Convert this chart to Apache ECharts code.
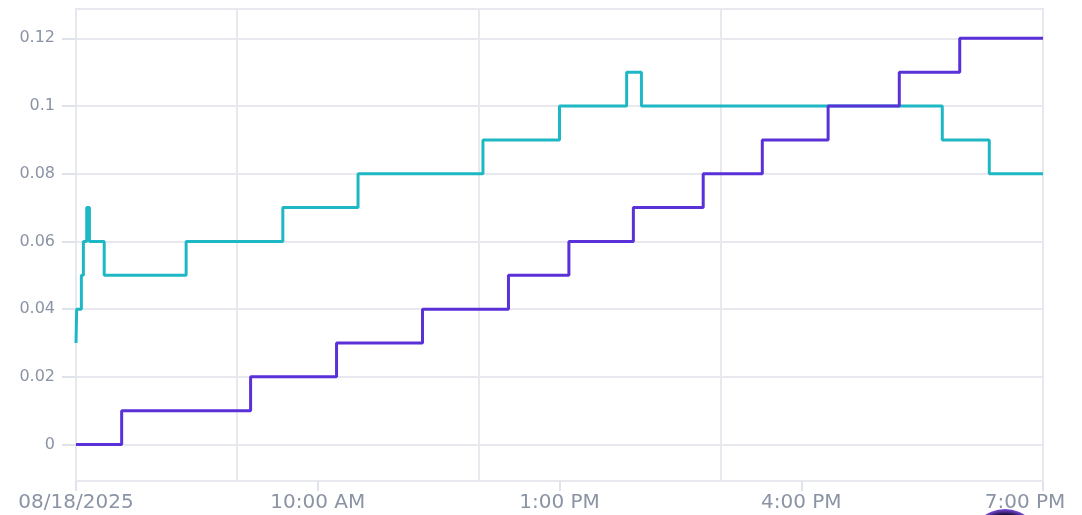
<!DOCTYPE html>
<html>
<head>
<meta charset="utf-8">
<script src="https://cdn.jsdelivr.net/npm/echarts@6/dist/echarts.min.js"></script>
<style>
  html, body { margin: 0; padding: 0; background: #ffffff; }
  #chart { width: 1082px; height: 515px; }
</style>
</head>
<body>
<div id="chart"></div>
<script>
// ---- data (times are on 08/18/2025) ----
const purpleTimes  = ['07:00','07:34','09:10','10:14','11:18','12:22','13:07','13:55','14:47','15:31','16:20','17:13','17:58','19:00'];
const purpleValues = [0, 0.01, 0.02, 0.03, 0.04, 0.05, 0.06, 0.07, 0.08, 0.09, 0.10, 0.11, 0.12, 0.12];

const cyanTimes  = ['07:00','07:00:30','07:04','07:05:30','07:08','07:10','07:21','08:22','09:34','10:30','12:03','13:00','13:50','14:01','17:45','18:20','19:00'];
const cyanValues = [0.03, 0.04, 0.05, 0.06, 0.07, 0.06, 0.05, 0.06, 0.07, 0.08, 0.09, 0.10, 0.11, 0.10, 0.09, 0.08, 0.08];

const xTickTimes   = ['07:00','10:00','13:00','16:00','19:00'];
const xGridHours   = [9, 12, 15];
const yTickValues  = [0, 0.02, 0.04, 0.06, 0.08, 0.10, 0.12];
const dateLabel    = '08/18/2025';

// ---- helpers ----
function toMin(s) {
  const p = s.split(':').map(Number);
  return p[0] * 60 + p[1] + (p[2] || 0) / 60;
}
function fmtTime(m) {
  const h = Math.floor(m / 60), mm = Math.round(m % 60);
  const ap = h >= 12 ? 'PM' : 'AM';
  let h12 = h % 12; if (h12 === 0) h12 = 12;
  return h12 + ':' + String(mm).padStart(2, '0') + ' ' + ap;
}
const xMin = toMin(xTickTimes[0]);
const xMax = toMin(xTickTimes[xTickTimes.length - 1]);
const hourCats = [];
for (let h = xMin / 60; h <= xMax / 60; h++) hourCats.push(String(h));

const purpleData = purpleTimes.map((t, i) => [toMin(t), purpleValues[i]]);
const cyanData = cyanTimes.map((t, i) => [toMin(t), cyanValues[i]]);

const GRID = '#e7e9ee';
const TICK = '#e0e3e9';
const LABEL = '#8b94a5';
const FONT = 'DejaVu Sans';

const chart = echarts.init(document.getElementById('chart'), null, { renderer: 'canvas' });
chart.setOption({
  animation: false,
  backgroundColor: '#ffffff',
  grid: {
    left: 76, right: 39, top: 9, bottom: 34,
    show: true, borderColor: GRID, borderWidth: 2
  },
  xAxis: [
    {
      type: 'value',
      min: xMin, max: xMax, interval: 180,
      axisLine: { show: true, onZero: false, lineStyle: { color: GRID, width: 2 } },
      axisTick: { show: true, length: 10, lineStyle: { color: TICK, width: 2 } },
      splitLine: { show: false },
      axisLabel: {
        color: LABEL, fontFamily: FONT, fontSize: 20, margin: 12,
        formatter: function (v) {
          if (Math.abs(v - xMin) < 0.01) return dateLabel;
          if (Math.abs(v - xMax) < 0.01) return '{r|' + fmtTime(v) + '}';
          return fmtTime(v);
        },
        rich: {
          r: { color: LABEL, fontFamily: FONT, fontSize: 20, padding: [0, 36, 0, 0] }
        }
      }
    },
    {
      type: 'category',
      data: hourCats,
      boundaryGap: false,
      position: 'bottom',
      axisLine: { show: false, onZero: false },
      axisTick: { show: false },
      axisLabel: { show: false },
      splitLine: {
        show: true,
        interval: function (idx, val) { return xGridHours.indexOf(Number(val)) >= 0; },
        lineStyle: { color: GRID, width: 2 }
      }
    }
  ],
  yAxis: {
    type: 'value',
    min: -0.01076, max: 0.12866,
    axisLine: { show: true, onZero: false, lineStyle: { color: GRID, width: 2 } },
    axisTick: { show: true, inside: false, length: 14, customValues: yTickValues, lineStyle: { color: TICK, width: 2 } },
    splitLine: { show: true, lineStyle: { color: GRID, width: 2 } },
    axisLabel: {
      customValues: yTickValues,
      color: LABEL, fontFamily: FONT, fontSize: 16, margin: 21,
      formatter: function (v) { return String(+v.toFixed(2)); }
    }
  },
  series: [
    {
      name: 'cyan', type: 'line', step: 'end', xAxisIndex: 0,
      data: cyanData, showSymbol: false, symbol: 'none',
      lineStyle: { color: '#1db8c4', width: 3 }, z: 3
    },
    {
      name: 'purple', type: 'line', step: 'end', xAxisIndex: 0,
      data: purpleData, showSymbol: false, symbol: 'none',
      lineStyle: { color: '#5a30d8', width: 3 }, z: 4
    }
  ],
  graphic: [
    {
      type: 'circle', shape: { cx: 1005, cy: 545, r: 36 }, silent: true, z: 100,
      style: {
        fill: new echarts.graphic.RadialGradient(0.5, 0.5, 0.5, [
          { offset: 0, color: '#0e0820' },
          { offset: 0.85, color: '#1c1040' },
          { offset: 1, color: '#7d4ae0' }
        ])
      }
    }
  ]
});
</script>
</body>
</html>
